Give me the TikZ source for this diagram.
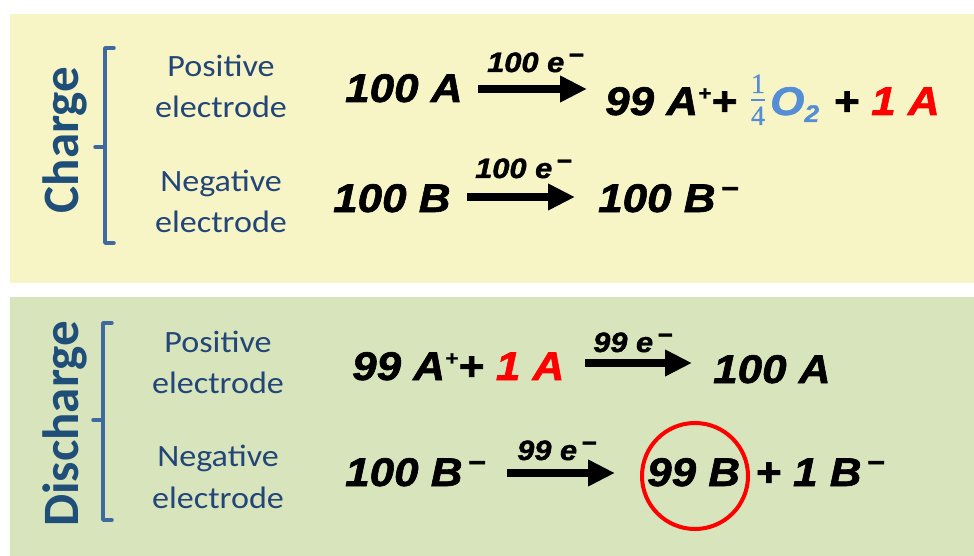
\documentclass[tikz,border=0pt]{standalone}
\usepackage{fontspec}
\usetikzlibrary{arrows.meta}
\setmainfont{Liberation Sans}
\newfontfamily\eqfont{Liberation Sans}[FakeStretch=1.1,FakeBold=1.5]
\newfontfamily\lblfont{Carlito}[FakeStretch=1.1]
\newfontfamily\titfont{Carlito}
\newfontfamily\fracfont{Liberation Serif}[FakeBold=0.6]
\definecolor{chargebg}{RGB}{247,244,198}
\definecolor{dischbg}{RGB}{216,228,188}
\definecolor{titblue}{RGB}{31,78,121}
\definecolor{lblblue}{RGB}{35,70,120}
\definecolor{brblue}{RGB}{63,106,159}
\definecolor{oxblue}{RGB}{86,142,214}
\definecolor{hired}{RGB}{255,0,0}
\newcommand\EQ{\eqfont\bfseries\itshape\fontsize{40}{40}\selectfont}
\newcommand\EL{\eqfont\bfseries\itshape\fontsize{28}{28}\selectfont}
\newcommand\supplus{\raisebox{15pt}{\fontsize{20}{20}\selectfont +}}
\newcommand\supminus{\kern5pt\raisebox{14pt}{\fontsize{28}{28}\selectfont −}}
\newcommand\lblminus{\kern4pt\raisebox{9pt}{\fontsize{24}{24}\selectfont −}}
\tikzset{
  title/.style={font=\titfont\bfseries\fontsize{51}{51}\selectfont, text=titblue, rotate=90, anchor=base, inner sep=0pt},
  lbl/.style={font=\lblfont\fontsize{31}{31}\selectfont, text=lblblue, anchor=base, inner sep=0pt},
  eq/.style={font=\EQ, text=black, anchor=base west, inner sep=0pt},
  elab/.style={font=\EL, text=black, anchor=base west, inner sep=0pt},
  fracdigit/.style={font=\fracfont\fontsize{28}{28}\selectfont, text=oxblue, anchor=base, inner sep=0pt},
  fracbar/.style={draw=oxblue, line width=2pt},
  rxn/.style={line width=8pt, -{Triangle[length=27pt,width=25pt]}},
  bracket/.style={draw=brblue, line width=3.5pt, line join=round, line cap=round},
}
\begin{document}
\begin{tikzpicture}[x=1pt,y=-1pt]
\useasboundingbox (0,0) rectangle (974,556);
\fill[white] (0,0) rectangle (974,556);
% panels
\fill[chargebg] (10,14) rectangle (974,283);
\fill[dischbg] (10,297) rectangle (974,556);
% titles
\node[title] (tcharge) at (78,140) {Charge};
\node[title] (tdisch) at (78,424) {Discharge};
% brackets
\draw[bracket] (114,48) -- (105,48) -- (105,243) -- (114,243);
\draw[bracket] (105,147) -- (95,147);
\draw[bracket] (112,323) -- (103,323) -- (103,520) -- (112,520);
\draw[bracket] (103,420) -- (93,420);
% labels
\node[lbl] (cp1) at (221,77) {Positive};
\node[lbl] (cp2) at (221,118) {electrode};
\node[lbl] (cn1) at (221,192) {Negative};
\node[lbl] (cn2) at (221,233) {electrode};
\node[lbl] (dp1) at (218,352) {Positive};
\node[lbl] (dp2) at (218,393) {electrode};
\node[lbl] (dn1) at (218,466) {Negative};
\node[lbl] (dn2) at (218,508) {electrode};
% Charge, positive
\node[eq] (c1l) at (345,102) {100 A};
\coordinate (c1s) at (478,89);
\coordinate (c1e) at (587,89);
\draw[rxn] (c1s) -- (c1e);
\node[elab] (c1lab) at (487,72) {100 e\lblminus};
\node[eq] (c1r) at (605,115) {99 A\supplus+};
\node[fracdigit] (qn) at (758,93) {1};
\node[fracdigit] (qd) at (758,125) {4};
\coordinate (qbl) at (751,100);
\coordinate (qbr) at (765,100);
\draw[fracbar] (qbl) -- (qbr);
\node[eq] (c1r2) at (770,115) {{\color{oxblue}O\raisebox{-7pt}{\fontsize{24}{24}\selectfont 2}}\kern2pt\ + {\color{hired}1 A}};
% Charge, negative
\node[eq] (c2l) at (333,212) {100 B};
\coordinate (c2s) at (467,197);
\coordinate (c2e) at (575,197);
\draw[rxn] (c2s) -- (c2e);
\node[elab] (c2lab) at (475,178) {100 e\lblminus};
\node[eq] (c2r) at (598,212) {100 B\supminus};
% Discharge, positive
\node[eq] (d1l) at (352,380) {99 A\supplus+ {\color{hired}1 A}};
\coordinate (d1s) at (585,363);
\coordinate (d1e) at (692,363);
\draw[rxn] (d1s) -- (d1e);
\node[elab] (d1lab) at (593,352) {99 e\lblminus};
\node[eq] (d1r) at (713,383) {100 A};
% Discharge, negative
\node[eq] (d2l) at (345,486) {100 B\supminus};
\coordinate (d2s) at (507,473);
\coordinate (d2e) at (615,473);
\draw[rxn] (d2s) -- (d2e);
\node[elab] (d2lab) at (517,460) {99 e\lblminus};
\node[eq] (d2r) at (647,486) {99 B};
\node[eq] (d2r2) at (755,486) {+ 1 B\supminus};
\node[circle, draw=hired, line width=4pt, minimum size=106pt, inner sep=0pt] (ring) at (695,476) {};
\end{tikzpicture}
\end{document}
